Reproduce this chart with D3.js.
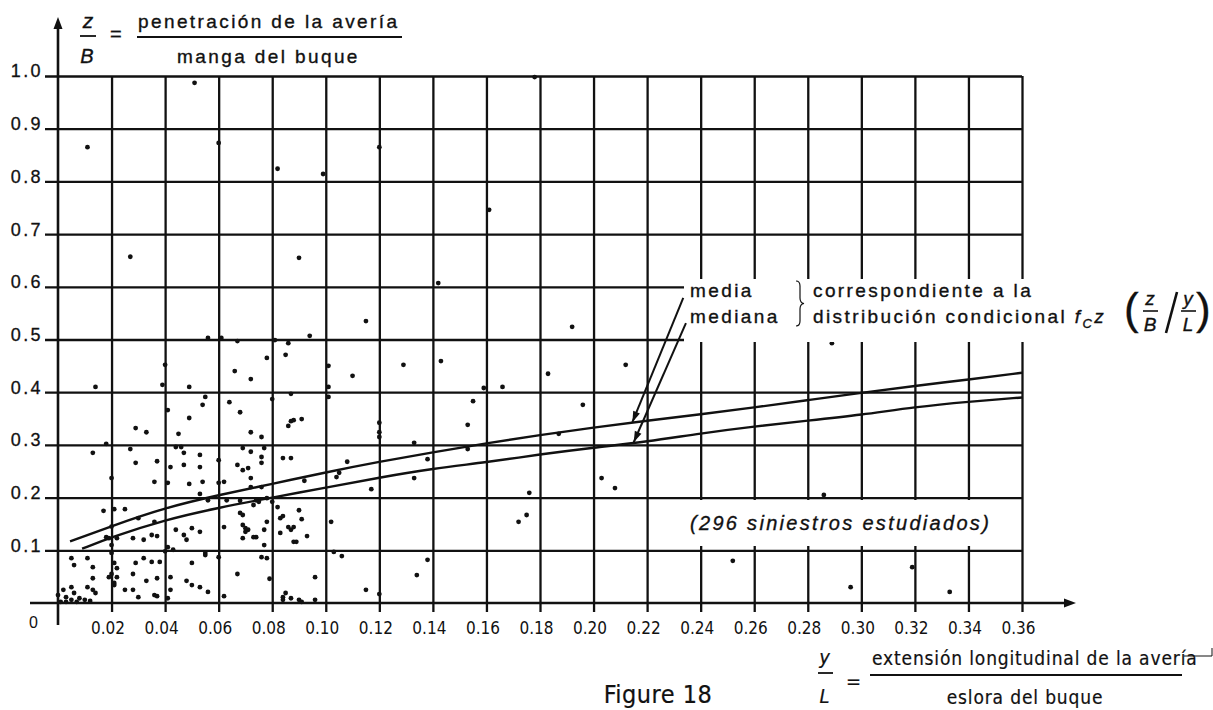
<!DOCTYPE html>
<html>
<head>
<meta charset="utf-8">
<script src="https://cdn.jsdelivr.net/npm/d3@7"></script>
<style>
  html, body { margin: 0; padding: 0; background: #fff; }
  svg { display: block; font-family: "Liberation Sans", Arial, sans-serif; }
</style>
</head>
<body>
<svg id="chart" width="1213" height="710"></svg>
<script>
// Figure 18: penetración (z/B) frente a extensión longitudinal (y/L), 296 siniestros.
// Values; dots are approximate positions.

const xTicks = [0.02, 0.04, 0.06, 0.08, 0.10, 0.12, 0.14, 0.16, 0.18, 0.20, 0.22, 0.24, 0.26, 0.28, 0.30, 0.32, 0.34, 0.36];
const yTicks = [0.1, 0.2, 0.3, 0.4, 0.5, 0.6, 0.7, 0.8, 0.9, 1.0];

// media curve
const mediaX = [0.0045, 0.02, 0.04, 0.06, 0.08, 0.10, 0.12, 0.14, 0.16, 0.18, 0.20, 0.22, 0.24, 0.26, 0.28, 0.30, 0.32, 0.34, 0.36];
const mediaY = [0.117, 0.146, 0.181, 0.205, 0.226, 0.248, 0.268, 0.286, 0.303, 0.319, 0.333, 0.346, 0.358, 0.371, 0.385, 0.399, 0.412, 0.424, 0.437];
// mediana curve
const medianaX = [0.009, 0.02, 0.04, 0.06, 0.08, 0.10, 0.12, 0.14, 0.16, 0.18, 0.20, 0.22, 0.24, 0.26, 0.28, 0.30, 0.32, 0.34, 0.36];
const medianaY = [0.103, 0.125, 0.158, 0.181, 0.200, 0.219, 0.238, 0.255, 0.267, 0.282, 0.295, 0.306, 0.322, 0.335, 0.346, 0.357, 0.372, 0.382, 0.390];

// siniestros, [y/L, z/B], grouped by band of z/B
const puntosAltos = [
  [0.011, 0.865], [0.051, 0.987], [0.178, 0.998], [0.060, 0.873], [0.120, 0.865], [0.082, 0.824],
  [0.099, 0.814], [0.161, 0.746], [0.027, 0.657], [0.090, 0.655], [0.142, 0.607], [0.192, 0.524],
  [0.115, 0.535], [0.056, 0.503], [0.061, 0.503], [0.094, 0.507]
];
const puntos04 = [
  [0.040, 0.452], [0.085, 0.471], [0.078, 0.465], [0.066, 0.440], [0.072, 0.425], [0.039, 0.414],
  [0.049, 0.410], [0.014, 0.410], [0.101, 0.450], [0.101, 0.410], [0.110, 0.431], [0.129, 0.452],
  [0.143, 0.459], [0.183, 0.435], [0.212, 0.452], [0.159, 0.408], [0.166, 0.410], [0.067, 0.497],
  [0.081, 0.499], [0.086, 0.493], [0.289, 0.493]
];
const puntos03 = [
  [0.055, 0.391], [0.054, 0.376], [0.064, 0.381], [0.068, 0.362], [0.080, 0.387], [0.087, 0.397],
  [0.088, 0.347], [0.086, 0.336], [0.041, 0.366], [0.049, 0.351], [0.029, 0.332], [0.033, 0.324],
  [0.045, 0.321], [0.072, 0.324], [0.076, 0.315], [0.018, 0.302], [0.101, 0.391], [0.091, 0.349],
  [0.087, 0.345], [0.155, 0.383], [0.196, 0.376], [0.153, 0.338], [0.120, 0.342], [0.120, 0.324],
  [0.120, 0.315], [0.133, 0.304], [0.187, 0.321]
];
const puntos02 = [
  [0.027, 0.292], [0.046, 0.296], [0.047, 0.285], [0.053, 0.281], [0.060, 0.271], [0.069, 0.294],
  [0.072, 0.287], [0.077, 0.294], [0.076, 0.277], [0.084, 0.275], [0.087, 0.275], [0.013, 0.285],
  [0.029, 0.266], [0.037, 0.269], [0.053, 0.258], [0.067, 0.262], [0.069, 0.252], [0.076, 0.266],
  [0.020, 0.237], [0.036, 0.230], [0.041, 0.228], [0.049, 0.226], [0.060, 0.228], [0.054, 0.230],
  [0.053, 0.207], [0.062, 0.230], [0.076, 0.220], [0.072, 0.220], [0.042, 0.258], [0.044, 0.296],
  [0.047, 0.262], [0.071, 0.256], [0.072, 0.237], [0.108, 0.268], [0.105, 0.247], [0.104, 0.239],
  [0.092, 0.232], [0.153, 0.292], [0.138, 0.273], [0.133, 0.237], [0.117, 0.216], [0.203, 0.237],
  [0.208, 0.218], [0.176, 0.209], [0.286, 0.205]
];
const puntos01 = [
  [0.056, 0.195], [0.078, 0.199], [0.017, 0.175], [0.021, 0.178], [0.025, 0.178], [0.030, 0.161],
  [0.036, 0.154], [0.044, 0.139], [0.050, 0.142], [0.063, 0.195], [0.068, 0.194], [0.074, 0.195],
  [0.080, 0.192], [0.018, 0.125], [0.019, 0.123], [0.022, 0.123], [0.028, 0.123], [0.032, 0.120],
  [0.035, 0.129], [0.037, 0.127], [0.041, 0.106], [0.047, 0.129], [0.048, 0.120], [0.053, 0.135],
  [0.062, 0.144], [0.068, 0.171], [0.069, 0.148], [0.071, 0.139], [0.074, 0.125], [0.077, 0.139],
  [0.078, 0.154], [0.083, 0.161], [0.083, 0.133], [0.088, 0.144], [0.088, 0.116], [0.069, 0.167],
  [0.070, 0.142], [0.070, 0.135], [0.073, 0.125], [0.069, 0.123], [0.084, 0.165], [0.090, 0.176],
  [0.091, 0.159], [0.086, 0.144], [0.087, 0.139], [0.089, 0.116], [0.093, 0.127], [0.077, 0.110],
  [0.073, 0.186], [0.075, 0.192], [0.082, 0.182], [0.102, 0.154], [0.175, 0.167], [0.172, 0.154],
  [0.020, 0.110], [0.020, 0.145], [0.040, 0.098], [0.043, 0.101]
];
const puntos00 = [
  [0.005, 0.085], [0.006, 0.072], [0.011, 0.085], [0.013, 0.068], [0.021, 0.076], [0.022, 0.066],
  [0.029, 0.076], [0.032, 0.085], [0.035, 0.078], [0.038, 0.078], [0.042, 0.049], [0.050, 0.076],
  [0.055, 0.091], [0.060, 0.087], [0.076, 0.087], [0.078, 0.085], [0.013, 0.047], [0.019, 0.049],
  [0.022, 0.049], [0.021, 0.038], [0.028, 0.055], [0.033, 0.042], [0.037, 0.047], [0.048, 0.042],
  [0.067, 0.055], [0.079, 0.046], [0.011, 0.030], [0.013, 0.025], [0.014, 0.019], [0.021, 0.034],
  [0.025, 0.025], [0.028, 0.025], [0.030, 0.011], [0.036, 0.015], [0.037, 0.013], [0.041, 0.009],
  [0.042, 0.025], [0.050, 0.034], [0.053, 0.030], [0.062, 0.013], [0.002, 0.025], [0.003, 0.011],
  [0.005, 0.006], [0.006, 0.019], [0.007, 0.002], [0.008, 0.009], [0.003, 0.002], [0.001, 0.002],
  [0.005, 0.030], [0.000, 0.015], [0.010, 0.006], [0.012, 0.004], [0.084, 0.011], [0.085, 0.019],
  [0.084, 0.006], [0.087, 0.009], [0.090, 0.006], [0.091, 0.002], [0.096, 0.006], [0.056, 0.021],
  [0.055, 0.095], [0.103, 0.097], [0.106, 0.089], [0.096, 0.049], [0.115, 0.025], [0.120, 0.017],
  [0.138, 0.082], [0.134, 0.053], [0.252, 0.080], [0.319, 0.068], [0.296, 0.030], [0.333, 0.021],
  [0.020, 0.095], [0.020, 0.055]
];

// arrow from label to curve: [start, tip] in data units
const flechaMedia = [[0.2335, 0.579], [0.2145, 0.343]];
const flechaMediana = [[0.2345, 0.531], [0.2150, 0.305]];

const INK = "#111";
const svg = d3.select("#chart");
const x = d3.scaleLinear().domain([0, 0.36]).range([58, 1022]);
const y = d3.scaleLinear().domain([0, 1]).range([603, 76]);
const gridBottom = y(0) + 9;

// vertical grid lines (stick a little below the x axis, like ticks)
svg.append("g").attr("transform", `translate(0,${gridBottom})`)
  .call(d3.axisBottom(x).tickValues(xTicks).tickSize(-(gridBottom - y(1))).tickFormat(""))
  .call((g) => g.select(".domain").remove())
  .call((g) => g.selectAll("line").attr("stroke", INK).attr("stroke-width", 2.3));

// horizontal grid lines (start a little left of the y axis)
svg.append("g").attr("transform", "translate(45,0)")
  .call(d3.axisLeft(y).tickValues(yTicks).tickSize(-(x(0.36) - 45)).tickFormat(""))
  .call((g) => g.select(".domain").remove())
  .call((g) => g.selectAll("line").attr("stroke", INK).attr("stroke-width", 2.3));

// curves
const line = d3.line().x((d) => x(d[0])).y((d) => y(d[1])).curve(d3.curveBasis);
[[mediaX, mediaY], [medianaX, medianaY]].forEach(([xs, ys]) => {
  svg.append("path").datum(xs.map((v, i) => [v, ys[i]]))
    .attr("fill", "none").attr("stroke", INK).attr("stroke-width", 2.4).attr("d", line);
});

// dots
const puntos = [].concat(puntosAltos, puntos04, puntos03, puntos02, puntos01, puntos00);
svg.append("g").selectAll("circle").data(puntos).join("circle")
  .attr("cx", (d) => x(d[0])).attr("cy", (d) => y(d[1])).attr("r", 2.4).attr("fill", INK);

// white patches behind the notes
svg.append("rect").attr("x", 684).attr("y", 279).attr("width", 346).attr("height", 63).attr("fill", "#fff");
svg.append("rect").attr("x", 657).attr("y", 500).attr("width", 358).attr("height", 46).attr("fill", "#fff");

// axes with arrows
svg.append("line").attr("x1", 30).attr("x2", 1068).attr("y1", y(0)).attr("y2", y(0))
  .attr("stroke", INK).attr("stroke-width", 2.6);
svg.append("path").attr("d", `M1076,${y(0)} l-12,-4.5 v9 z`).attr("fill", INK);
svg.append("line").attr("x1", x(0)).attr("x2", x(0)).attr("y1", 625).attr("y2", 26)
  .attr("stroke", INK).attr("stroke-width", 2.6);
svg.append("path").attr("d", `M${x(0)},17 l-4.5,12 h9 z`).attr("fill", INK);

// tick labels
svg.append("g").attr("transform", "translate(43,0)")
  .call(d3.axisLeft(y).tickValues(yTicks).tickSize(0).tickPadding(0).tickFormat(d3.format(".1f")))
  .call((g) => g.select(".domain").remove())
  .call((g) => g.selectAll("text").attr("dy", "0.05em").attr("fill", INK)
    .attr("stroke", INK).attr("stroke-width", 0.3)
    .attr("font-family", "Liberation Sans, Arial, sans-serif").attr("font-size", 18).attr("letter-spacing", 2.4));

svg.append("g").attr("transform", "translate(0,634)")
  .call(d3.axisBottom(x).tickValues(xTicks).tickSize(0).tickPadding(0).tickFormat(d3.format(".2f")))
  .call((g) => g.select(".domain").remove())
  .call((g) => g.selectAll("text").attr("dy", 0).attr("x", -4).attr("fill", INK)
    .attr("font-family", "Liberation Sans Narrow, DejaVu Sans Condensed, sans-serif").attr("font-size", 17));

svg.append("text").attr("x", x(0) - 29).attr("y", 628).attr("font-size", 16).attr("fill", INK)
  .attr("font-family", "Liberation Sans Narrow, sans-serif").text("0");

// text helpers
const T = { "font-size": 19, "letter-spacing": 2.4, fill: INK, stroke: INK, "stroke-width": 0.35 };
function txt(xp, yp, s, extra) {
  const t = svg.append("text").attr("x", xp).attr("y", yp).text(s);
  Object.entries(Object.assign({}, T, extra || {})).forEach(([k, v]) => t.attr(k, v));
  return t;
}
function bar(x1, x2, yp, w) {
  svg.append("line").attr("x1", x1).attr("x2", x2).attr("y1", yp).attr("y2", yp)
    .attr("stroke", INK).attr("stroke-width", w || 1.8);
}

// y title: z/B = penetración de la avería / manga del buque
txt(88, 28, "z", { "font-style": "italic", "text-anchor": "middle", "letter-spacing": 0, "font-size": 21 });
bar(80, 96, 36);
txt(87, 63, "B", { "font-style": "italic", "text-anchor": "middle", "letter-spacing": 0, "font-size": 20 });
txt(110, 41, "=", { "letter-spacing": 0, "font-size": 20 });
txt(138, 28, "penetración de la avería");
bar(137, 402, 37);
txt(177, 63, "manga del buque");

// notes
txt(690, 297, "media");
txt(690, 323, "mediana");
svg.append("path").attr("d", "M796,281 q4,0 4,5 v12 q0,5 4,5.5 q-4,0.5 -4,5.5 v12 q0,5 -4,5")
  .attr("fill", "none").attr("stroke", INK).attr("stroke-width", 1.2);
txt(813, 297, "correspondiente a la");
const dc = txt(813, 323, "distribución condicional ");
dc.append("tspan").attr("font-style", "italic").text("f");
dc.append("tspan").attr("font-style", "italic").attr("font-size", 13).attr("dy", 5).text("C");
dc.append("tspan").attr("font-style", "italic").attr("dy", -5).text("z");

// ( z/B / y/L )
txt(1124, 324, "(", { "font-size": 44, "letter-spacing": 0 });
txt(1150, 305, "z", { "font-style": "italic", "text-anchor": "middle", "letter-spacing": 0 });
bar(1143, 1158, 311, 1.6);
txt(1150, 331, "B", { "font-style": "italic", "text-anchor": "middle", "letter-spacing": 0 });
svg.append("line").attr("x1", 1166).attr("y1", 333).attr("x2", 1177).attr("y2", 292)
  .attr("stroke", INK).attr("stroke-width", 2.6);
txt(1188, 305, "y", { "font-style": "italic", "text-anchor": "middle", "letter-spacing": 0 });
bar(1181, 1196, 311, 1.6);
txt(1188, 331, "L", { "font-style": "italic", "text-anchor": "middle", "letter-spacing": 0 });
txt(1196, 324, ")", { "font-size": 44, "letter-spacing": 0 });

// arrows
[flechaMedia, flechaMediana].forEach(([s, e]) => {
  const x1 = x(s[0]), y1 = y(s[1]), x2 = x(e[0]), y2 = y(e[1]);
  const a = Math.atan2(y2 - y1, x2 - x1);
  svg.append("line").attr("x1", x1).attr("y1", y1).attr("x2", x2).attr("y2", y2)
    .attr("stroke", INK).attr("stroke-width", 2);
  const L = 11, W = 3.6;
  const bx = x2 - L * Math.cos(a), by = y2 - L * Math.sin(a);
  svg.append("path").attr("fill", INK)
    .attr("d", `M${x2},${y2} L${bx - W * Math.sin(a)},${by + W * Math.cos(a)} L${bx + W * Math.sin(a)},${by - W * Math.cos(a)} Z`);
});

txt(690, 530, "(296 siniestros estudiados)", { "font-style": "italic", "font-size": 20, "letter-spacing": 2.3 });

// x title: y/L = extensión longitudinal de la avería / eslora del buque
const N = { "font-family": "Liberation Sans Narrow, DejaVu Sans Condensed, sans-serif", "letter-spacing": 0.85, "stroke-width": 0.2 };
txt(658, 703, "Figure 18", Object.assign({}, N, { "font-size": 25, "text-anchor": "middle", "letter-spacing": 0.5 }));
txt(825, 664, "y", Object.assign({}, N, { "font-style": "italic", "text-anchor": "middle", "font-size": 20 }));
bar(818, 833, 673);
txt(825, 703, "L", Object.assign({}, N, { "font-style": "italic", "text-anchor": "middle", "font-size": 20 }));
txt(846, 688, "=", Object.assign({}, N, { "font-size": 20 }));
txt(872, 665, "extensión longitudinal de la avería", Object.assign({}, N, { "font-size": 19 }));
bar(870, 1182, 675);
txt(1025, 704, "eslora del buque", Object.assign({}, N, { "font-size": 19, "text-anchor": "middle" }));
svg.append("path").attr("d", "M1184,656 H1212 V648").attr("fill", "none").attr("stroke", INK).attr("stroke-width", 1);
</script>
</body>
</html>
